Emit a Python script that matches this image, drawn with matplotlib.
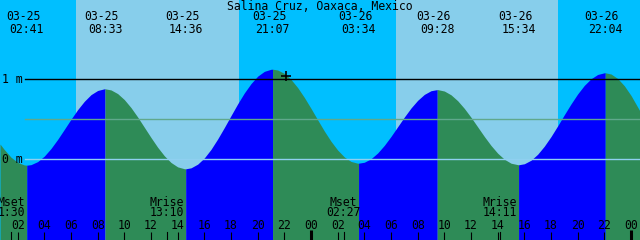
import matplotlib
matplotlib.use('Agg')
import matplotlib.pyplot as plt

# tide level in metres every half hour
# (hours since 03-25 00:00), plus the left and right edge
hours = [0.675] + [1 + 0.5 * i for i in range(95)] + [48.675]
level = [0.19,
         0.12, 0.025, -0.04, -0.072, -0.068, -0.03, 0.039, 0.134, 0.248, 0.373,
         0.50, 0.62, 0.724, 0.807, 0.859, 0.88, 0.866, 0.82, 0.745, 0.645,
         0.527, 0.399, 0.271, 0.149, 0.043, -0.041, -0.096, -0.119, -0.108, -0.062,
         0.016, 0.123, 0.253, 0.396, 0.545, 0.692, 0.828, 0.945, 1.038, 1.098,
         1.124, 1.115, 1.072, 0.997, 0.895, 0.772, 0.635, 0.492, 0.352, 0.224,
         0.114, 0.028, -0.028, -0.05, -0.038, 0.006, 0.078, 0.173, 0.285, 0.406,
         0.527, 0.64, 0.736, 0.81, 0.856, 0.87, 0.852, 0.805, 0.731, 0.635,
         0.524, 0.404, 0.284, 0.172, 0.075, 0.0, -0.05, -0.068, -0.057, -0.013,
         0.062, 0.163, 0.283, 0.417, 0.556, 0.691, 0.816, 0.923, 1.005, 1.059,
         1.08, 1.065, 1.009, 0.918, 0.797,
         0.60]

# high / low tides
ext_hours = [2.683, 8.55, 14.6, 21.117, 27.567, 33.467, 39.567, 46.067]
ext_level = [-0.075, 0.88, -0.12, 1.125, -0.05, 0.87, -0.07, 1.08]
ext_date = ['03-25', '03-25', '03-25', '03-25', '03-26', '03-26', '03-26', '03-26']
ext_time = ['02:41', '08:33', '14:36', '21:07', '03:34', '09:28', '15:34', '22:04']

# daylight (sunrise, sunset)
day_spans = [(6.375, 18.6), (30.375, 42.56)]

# moon events
moon_hours = [1.5, 13.167, 26.45, 38.183]
moon_name = ['Mset', 'Mrise', 'Mset', 'Mrise']
moon_time = ['1:30', '13:10', '02:27', '14:11']

tick_hours = list(range(2, 49, 2))
tick_labels = ['%02d' % (h % 24) for h in tick_hours]

title = 'Salina Cruz, Oaxaca, Mexico'
now_hour, now_level = 22.125, 1.045

night = '#00bfff'
day = '#87ceeb'
rise = '#0000ff'
fall = '#2e8b57'

t0, t1 = 0.675, 48.675
ylo, yhi = -1.01, 1.99


def ypx(p):
    # pixel row (from top) -> metres
    return yhi - p / 80.0


fig = plt.figure(figsize=(6.4, 2.4), dpi=100)
ax = fig.add_axes([0, 0, 1, 1])
ax.set_xlim(t0, t1)
ax.set_ylim(ylo, yhi)
ax.axis('off')
fig.patch.set_facecolor(night)
ax.axvspan(t0, t1, color=night, lw=0, zorder=0)
for a, b in day_spans:
    ax.axvspan(a, b, color=day, lw=0, zorder=0)

# merge readings and extrema into one curve
pts = sorted(set(zip(hours, level)) | set(zip(ext_hours, ext_level)))
ts = [p[0] for p in pts]
hs = [p[1] for p in pts]

bounds = [t0] + ext_hours + [t1]
for i in range(len(bounds) - 1):
    a, b = bounds[i], bounds[i + 1]
    seg_t = [t for t in ts if a <= t <= b]
    seg_h = [h for t, h in zip(ts, hs) if a <= t <= b]
    rising = seg_h[-1] > seg_h[0]
    ax.fill_between(seg_t, ylo, seg_h, color=rise if rising else fall,
                    lw=0, zorder=1)

xs = t0 + 25 / 13.333
ax.plot([xs, t1], [1, 1], color='black', lw=1, zorder=2)
ax.plot([xs, t1], [0.5, 0.5], color='#60a88c', lw=1, zorder=2)
ax.plot([xs, t1], [0, 0], color='#8fd0f0', lw=1, zorder=2)

mono = dict(family='DejaVu Sans Mono', fontsize=8.3, color='black', zorder=5)
ax.text(t0 + 2 / 13.333, 1, '1 m', ha='left', va='center', **mono)
ax.text(t0 + 2 / 13.333, 0, '0 m', ha='left', va='center', **mono)

ax.text((t0 + t1) / 2, ypx(6), title, ha='center', va='center', **mono)

for t, d, s in zip(ext_hours, ext_date, ext_time):
    ax.text(t - 3.5 / 13.333, ypx(17), d, ha='center', va='center', **mono)
    ax.text(t, ypx(29.5), s, ha='center', va='center', **mono)

for t, n, s in zip(moon_hours, moon_name, moon_time):
    ax.text(t, ypx(202.5), n, ha='center', va='center', **mono)
    ax.text(t, ypx(213), s, ha='center', va='center', **mono)
    ax.plot([t, t], [ypx(232), ylo], color='black', lw=0.8, zorder=4)

for t, s in zip(tick_hours, tick_labels):
    ax.text(t, ypx(225.5), s, ha='center', va='center', **mono)
    midnight = (t % 24 == 0)
    ax.plot([t, t], [ypx(230 if midnight else 232), ylo], color='black',
            lw=2.2 if midnight else 0.8, zorder=4, solid_capstyle='butt')

ax.plot([now_hour], [now_level], marker='+', color='black', ms=7, mew=1.2, zorder=6)

fig.savefig('out.png', dpi=100, facecolor=fig.get_facecolor())
